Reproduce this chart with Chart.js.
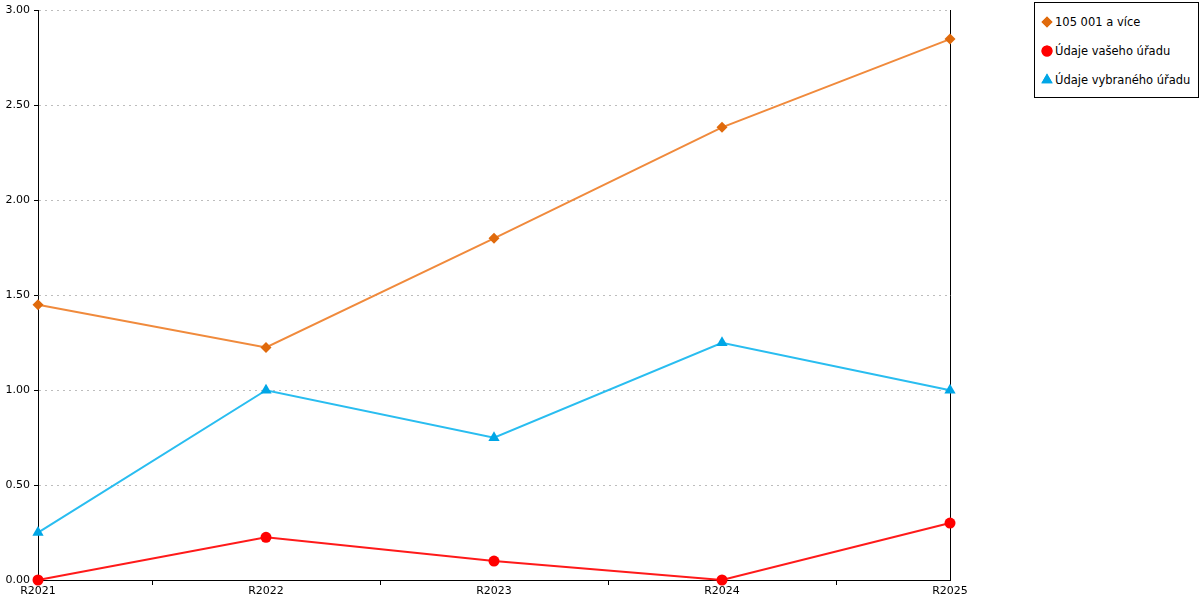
<!DOCTYPE html>
<html>
<head>
<meta charset="utf-8">
<script src="https://cdn.jsdelivr.net/npm/chart.js@4/dist/chart.umd.min.js"></script>
<style>
  body { margin: 0; background: #fff; font-family: "DejaVu Sans", Verdana, sans-serif; }
  #wrap { position: relative; width: 1200px; height: 600px; }
  #chart-box { position: absolute; left: 0; top: 0; width: 1030px; height: 600px; }
  #legend {
    position: absolute; left: 1034px; top: 2px; width: 165px; height: 96px;
    border: 1px solid #000; box-sizing: border-box; font-size: 11.5px; color: #000;
  }
  .leg-item { position: absolute; left: 4px; height: 14px; line-height: 14px; white-space: nowrap; }
  .leg-mark { position: absolute; left: 0; top: 0; width: 16px; height: 14px; }
  .leg-text { position: absolute; left: 16px; top: 0; }
</style>
</head>
<body>
<div id="wrap">
  <div id="chart-box"><canvas id="lineChart"></canvas></div>
  <div id="legend"></div>
</div>
<script>
// Chart data
const categories = ['R2021', 'R2022', 'R2023', 'R2024', 'R2025'];
const seriesNames = ['105 001 a více', 'Údaje vašeho úřadu', 'Údaje vybraného úřadu'];
const sizeGroupValues = [1.45, 1.225, 1.80, 2.385, 2.85];
const yourOfficeValues = [0, 0.225, 0.10, 0, 0.30];
const selectedOfficeValues = [0.25, 1.00, 0.75, 1.25, 1.00];
const yTicks = [0, 0.5, 1, 1.5, 2, 2.5, 3];

const lineColors = ['#f08a3c', '#ff1a1a', '#29bdf0'];
const markColors = ['#e06a0c', '#ff0000', '#00a6e6'];
const markStyles = ['rectRot', 'circle', 'triangle'];
const markSizes = [5.5, 5.5, 6.5];

Chart.defaults.font.family = '"DejaVu Sans", Verdana, sans-serif';
Chart.defaults.font.size = 11;
Chart.defaults.color = '#000';

function makeDataset(i, values) {
    return {
        label: seriesNames[i],
        data: values,
        borderColor: lineColors[i],
        backgroundColor: markColors[i],
        pointBackgroundColor: markColors[i],
        pointBorderColor: markColors[i],
        pointBorderWidth: 0,
        pointStyle: markStyles[i],
        pointRadius: markSizes[i],
        pointHoverRadius: markSizes[i],
        borderWidth: 2,
        tension: 0,
        clip: false
    };
}

document.addEventListener('DOMContentLoaded', function() {
    const ctx = document.getElementById('lineChart').getContext('2d');
    new Chart(ctx, {
        type: 'line',
        data: {
            labels: categories,
            datasets: [
                makeDataset(0, sizeGroupValues),
                makeDataset(1, yourOfficeValues),
                makeDataset(2, selectedOfficeValues)
            ].reverse()
        },
        options: {
            responsive: true,
            maintainAspectRatio: false,
            animation: false,
            layout: { padding: { top: 10, left: 0, right: 0, bottom: 0 } },
            plugins: {
                legend: { display: false },
                tooltip: { enabled: false }
            },
            scales: {
                x: {
                    offset: false,
                    grid: {
                        offset: true,
                        drawOnChartArea: false,
                        drawTicks: true,
                        tickLength: 5,
                        color: '#000'
                    },
                    border: { color: '#000', width: 1 },
                    ticks: { maxRotation: 0, autoSkip: false, padding: 0, color: '#000' },
                    afterFit: function(scale) { scale.height = 20; }
                },
                y: {
                    min: 0,
                    max: 3,
                    afterBuildTicks: function(scale) {
                        scale.ticks = yTicks.map(v => ({ value: v }));
                    },
                    grid: {
                        color: function(c) { return c.tick && c.tick.value === 0 ? '#000' : '#bdbdbd'; },
                        tickColor: '#000',
                        tickLength: 4,
                        drawTicks: true
                    },
                    border: { color: '#000', width: 1, dash: [2, 4] },
                    ticks: {
                        padding: 4,
                        color: '#000',
                        callback: function(value) { return Number(value).toFixed(2); }
                    },
                    afterFit: function(scale) { scale.width = 38; }
                },
                y2: {
                    position: 'right',
                    min: 0,
                    max: 3,
                    grid: { display: false },
                    border: { display: true, color: '#000', width: 1 },
                    ticks: { display: false },
                    afterFit: function(scale) { scale.width = 80; }
                }
            }
        }
    });

    // HTML legend built from the series settings
    const legend = document.getElementById('legend');
    const tops = [12, 41, 70];
    seriesNames.forEach(function(name, i) {
        const item = document.createElement('div');
        item.className = 'leg-item';
        item.style.top = tops[i] + 'px';
        const mark = document.createElement('canvas');
        mark.className = 'leg-mark';
        mark.width = 16; mark.height = 14;
        const mctx = mark.getContext('2d');
        mctx.fillStyle = markColors[i];
        Chart.helpers.drawPoint(mctx, {
            pointStyle: markStyles[i],
            radius: markSizes[i],
            borderWidth: 0,
            rotation: 0
        }, 8, 7);
        mctx.fill();
        const text = document.createElement('span');
        text.className = 'leg-text';
        text.textContent = name;
        item.appendChild(mark);
        item.appendChild(text);
        legend.appendChild(item);
    });
});
</script>
</body>
</html>
